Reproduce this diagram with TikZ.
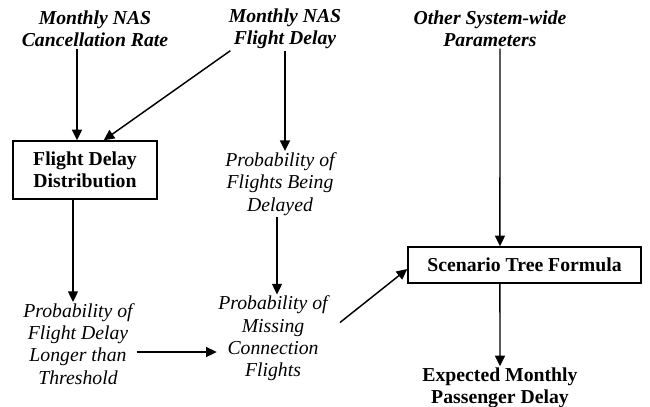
\documentclass[tikz,border=0pt]{standalone}
\usepackage{fontspec}
\setmainfont{Liberation Serif}
\usetikzlibrary{arrows.meta}
\tikzset{
  inbox/.style={font=\fontsize{14.8}{16.7}\selectfont\bfseries\itshape, align=center, inner sep=1pt},
  prob/.style={font=\fontsize{14.8}{16.7}\selectfont\itshape, align=center, inner sep=1pt},
  outbox/.style={font=\fontsize{14.8}{16.7}\selectfont\bfseries, align=center, inner sep=1pt},
  blk/.style={draw, line width=1.1pt, font=\fontsize{14.8}{16.7}\selectfont\bfseries, align=center},
  arr/.style={line width=1.1pt, -{Triangle[length=8pt,width=7.5pt]}}
}
\begin{document}
\begin{tikzpicture}[x=0.75pt,y=0.75pt,yscale=-1,xscale=1]
\useasboundingbox (0,0) rectangle (650,407);
% inputs
\node[inbox] (cr) at (95,29) {Monthly NAS\\Cancellation Rate};
\node[inbox] (nfd) at (285,29) {Monthly NAS\\Flight Delay};
\node[inbox] (osp) at (490,29) {Other System-wide\\Parameters};
% boxes
\node[blk, minimum width=108pt, minimum height=43.5pt] (fdd) at (85,170) {Flight Delay\\Distribution};
\node[blk, minimum width=174.75pt, minimum height=27pt] (stf) at (524.5,265) {Scenario Tree Formula};
% probabilities
\node[prob] (pfd) at (280,184) {Probability of\\Flights Being\\Delayed};
\node[prob] (pft) at (78,344) {Probability of\\Flight Delay\\Longer than\\Threshold};
\node[prob] (pmc) at (273,338.5) {Probability of\\Missing\\Connection\\Flights};
% output
\node[outbox] (emp) at (500,388) {Expected Monthly\\Passenger Delay};
% connectors
\draw[arr] ([xshift=-13.5pt]cr.south) -- ([xshift=-6pt]fdd.north);
\draw[arr] ([xshift=-41pt]nfd.south) -- ([xshift=14pt]fdd.north);
\draw[arr] (nfd.south) -- ([xshift=3.75pt]pfd.north);
\draw[arr] ([xshift=-9pt]fdd.south) -- ([xshift=-3.75pt]pft.north);
\draw[arr] ([xshift=-2.25pt]pfd.south) -- ([xshift=3pt]pmc.north);
\draw[arr] ([xshift=2pt,yshift=6pt]pft.east) -- ([yshift=6pt]pft.east -| pmc.west);
\draw[arr] ([xshift=8pt,yshift=-12pt]pmc.east) -- ([yshift=3pt]stf.west);
\draw[arr] ([xshift=7.5pt]osp.south) -- ([xshift=-18.4pt]stf.north);
\draw[arr] ([xshift=-18.4pt]stf.south) -- (emp.north);
\end{tikzpicture}
\end{document}
